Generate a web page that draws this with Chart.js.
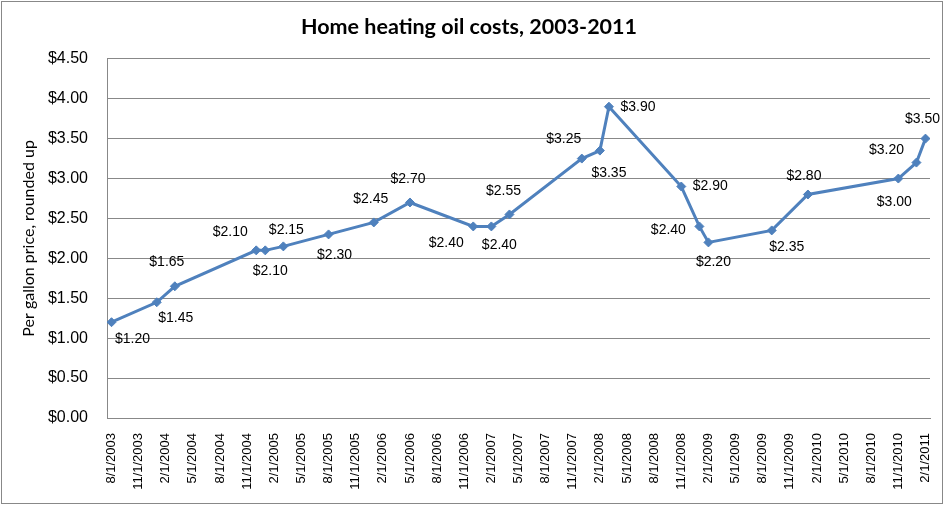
<!DOCTYPE html>
<html>
<head>
<meta charset="utf-8">
<script src="https://cdn.jsdelivr.net/npm/chart.js@4.4.1/dist/chart.umd.min.js"></script>
<style>
  html, body { margin: 0; padding: 0; background: #fff; }
  #wrap { width: 946px; height: 507px; position: relative; }
</style>
</head>
<body>
<div id="wrap"><canvas id="oilChart" width="946" height="507"></canvas></div>
<script>
// price reading dates (first of month) and the rounded-up price per gallon
const dates = [
  "8/1/2003", "1/1/2004", "3/1/2004", "12/1/2004", "1/1/2005", "3/1/2005",
  "8/1/2005", "1/1/2006", "5/1/2006", "12/1/2006", "2/1/2007", "4/1/2007",
  "12/1/2007", "2/1/2008", "3/1/2008", "11/1/2008", "1/1/2009", "2/1/2009",
  "9/1/2009", "1/1/2010", "11/1/2010", "1/1/2011", "2/1/2011"
];
const prices = [
  1.20, 1.45, 1.65, 2.10, 2.10, 2.15,
  2.30, 2.45, 2.70, 2.40, 2.40, 2.55,
  3.25, 3.35, 3.90, 2.90, 2.40, 2.20,
  2.35, 2.80, 3.00, 3.20, 3.50
];

// x axis labels, one every three months
const tickLabels = [
  "8/1/2003", "11/1/2003", "2/1/2004", "5/1/2004", "8/1/2004", "11/1/2004",
  "2/1/2005", "5/1/2005", "8/1/2005", "11/1/2005", "2/1/2006", "5/1/2006",
  "8/1/2006", "11/1/2006", "2/1/2007", "5/1/2007", "8/1/2007", "11/1/2007",
  "2/1/2008", "5/1/2008", "8/1/2008", "11/1/2008", "2/1/2009", "5/1/2009",
  "8/1/2009", "11/1/2009", "2/1/2010", "5/1/2010", "8/1/2010", "11/1/2010",
  "2/1/2011"
];

// where each value label sits relative to its marker (dx, dy in px)
const labelOffsets = [
  [21, 17], [19, 16], [-8, -24], [-26, -18], [5, 21], [3, -16],
  [6, 21], [-3, -23], [-2, -23], [-27, 17], [8, 19], [-6, -23],
  [-18, -19], [9, 23], [29, 0], [29, 0], [-31, 4], [5, 20],
  [15, 17], [-4, -18], [-4, 24], [-30, -12], [-3, -19]
];

// months counted from the first reading (Excel date axis, base unit = months)
function monthIndex(s) {
  const [m, d, y] = s.split("/").map(Number);
  return (y - 2003) * 12 + (m - 8);
}

const points = dates.map((d, i) => ({ x: monthIndex(d), y: prices[i] }));
const tickMonths = tickLabels.map(monthIndex);
const labelByMonth = {};
tickLabels.forEach((t) => { labelByMonth[monthIndex(t)] = t; });

const gridGrey = "#888888";
const lineBlue = "#4F81BD";

const frame = {
  id: "frame",
  beforeDraw(chart) {
    const ctx = chart.ctx;
    ctx.save();
    ctx.fillStyle = "#fff";
    ctx.fillRect(0, 0, chart.width, chart.height);
    ctx.strokeStyle = gridGrey;
    ctx.lineWidth = 1;
    ctx.strokeRect(1.5, 1.5, 941, 502);
    ctx.restore();
  }
};

const valueLabels = {
  id: "valueLabels",
  afterDatasetsDraw(chart) {
    const ctx = chart.ctx;
    const meta = chart.getDatasetMeta(0);
    ctx.save();
    ctx.font = "14px 'Liberation Sans', Arial, sans-serif";
    ctx.fillStyle = "#000";
    ctx.textAlign = "center";
    ctx.textBaseline = "middle";
    meta.data.forEach((pt, i) => {
      const [dx, dy] = labelOffsets[i];
      ctx.fillText("$" + prices[i].toFixed(2), pt.x + dx, pt.y + dy);
    });
    ctx.restore();
  }
};

new Chart(document.getElementById("oilChart"), {
  type: "line",
  data: {
    datasets: [
      {
        label: "Per gallon price",
        data: points,
        borderColor: lineBlue,
        backgroundColor: lineBlue,
        borderWidth: 3,
        pointStyle: "rectRot",
        pointRadius: 4.5,
        pointBorderWidth: 1,
        pointBackgroundColor: lineBlue,
        pointBorderColor: lineBlue,
        tension: 0,
      },
    ],
  },
  options: {
    responsive: false,
    animation: false,
    layout: { padding: { left: 8, right: 16, top: 0, bottom: 0 } },
    plugins: {
      legend: { display: false },
      tooltip: { enabled: false },
      title: {
        display: true,
        text: "Home heating oil costs, 2003-2011",
        color: "#000",
        font: { family: "Lato, 'Liberation Sans', sans-serif", size: 21.5, weight: "bold", lineHeight: 1.2 },
        padding: { top: 14, bottom: 19 },
      },
    },
    scales: {
      x: {
        type: "linear",
        min: -0.5,
        max: 90.5,
        afterBuildTicks(scale) {
          scale.ticks = tickMonths.map((v) => ({ value: v }));
        },
        afterFit(scale) {
          scale.height = 89;
          scale.paddingLeft = 0;
          scale.paddingRight = 0;
        },
        grid: { display: false, drawTicks: false },
        border: { display: true, color: gridGrey, width: 1 },
        ticks: {
          autoSkip: false,
          maxRotation: 90,
          minRotation: 90,
          padding: 15,
          color: "#000",
          font: { family: "'Liberation Sans', Arial, sans-serif", size: 13 },
          callback: (v) => labelByMonth[v] || "",
        },
      },
      y: {
        min: 0,
        max: 4.5,
        afterFit(scale) {
          scale.width = 99;
        },
        grid: { color: gridGrey, lineWidth: 1, drawTicks: false },
        border: { display: true, color: gridGrey, width: 1 },
        ticks: {
          stepSize: 0.5,
          padding: 19,
          color: "#000",
          font: { family: "'Liberation Sans', Arial, sans-serif", size: 16 },
          callback: (v) => "$" + Number(v).toFixed(2),
        },
        title: {
          display: true,
          text: "Per gallon price, rounded up",
          color: "#000",
          font: { family: "Lato, 'Liberation Sans', sans-serif", size: 16, lineHeight: 1.2 },
          padding: { top: 11, bottom: 0 },
        },
      },
    },
  },
  plugins: [frame, valueLabels],
});
</script>
</body>
</html>
